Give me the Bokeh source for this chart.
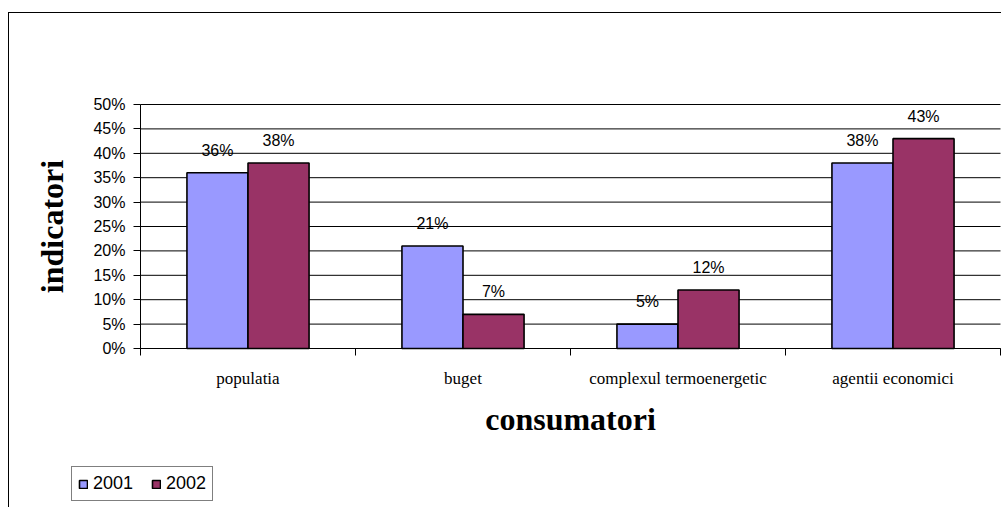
from bokeh.plotting import figure
from bokeh.models import (Range1d, FixedTicker, NumeralTickFormatter, Legend, LegendItem,
                          ColumnDataSource)
from bokeh.core.properties import value
from bokeh.embed import file_html
from bokeh.resources import INLINE

categories = ["populatia", "buget", "complexul termoenergetic", "agentii economici"]
series_names = ["2001", "2002"]
values_2001 = [0.36, 0.21, 0.05, 0.38]
values_2002 = [0.38, 0.07, 0.12, 0.43]
colors = ["#9999FF", "#993366"]
y_ticks = [0, 0.05, 0.10, 0.15, 0.20, 0.25, 0.30, 0.35, 0.40, 0.45, 0.50]

SANS = "Liberation Sans"
SERIF = "Liberation Serif"

# layout (canvas pixels); the frame covers the whole canvas, axes sit at fixed data locations
W, H = 993, 495
X0_PX, X1_PX = 131, 991      # canvas x of the first / last category boundary
Y0_PX, YT_PX = 335, 91       # canvas y of 0 and of the top of the value axis
ncat = len(categories)
ymax = y_ticks[-1]
ppx = (X1_PX - X0_PX) / ncat
ppy = (Y0_PX - YT_PX) / ymax
x_range = Range1d(-X0_PX / ppx, ncat + (W - X1_PX) / ppx)
y_range = Range1d(-(H - Y0_PX) / ppy, ymax + YT_PX / ppy)

p = figure(width=W, height=H, output_backend="svg", toolbar_location=None,
           x_range=x_range, y_range=y_range,
           min_border_left=0, min_border_right=0, min_border_top=0, min_border_bottom=0)
p.styles = {"border-left": "1px solid black", "border-top": "1px solid black",
            "margin-top": "12px", "margin-left": "8px"}
p.outline_line_color = None
p.background_fill_color = "white"
p.border_fill_color = "white"

# horizontal gridlines across the category span
p.segment(x0=[0] * len(y_ticks), x1=[ncat] * len(y_ticks), y0=y_ticks, y1=y_ticks,
          line_color="black", line_width=1)

bw = 0.284
xs = [i + 0.5 for i in range(ncat)]
renderers = []
for k, (vals, col) in enumerate(zip([values_2001, values_2002], colors)):
    off = (-0.5 + k) * bw
    src = ColumnDataSource(dict(x=[x + off for x in xs], top=vals,
                                lbl=[f"{round(v * 100)}%" for v in vals]))
    r = p.vbar(x="x", top="top", bottom=0, width=bw, source=src, fill_color=col,
               line_color="black", line_width=1.6)
    renderers.append(r)
    p.text(x="x", y="top", text="lbl", source=src, text_align="center", text_baseline="bottom",
           y_offset=-14, text_font=value(SANS), text_font_size="16px", text_color="black")

# x axis
xa = p.xaxis[0]
xa.fixed_location = 0
xa.bounds = (0, ncat)
xa.ticker = FixedTicker(ticks=xs, minor_ticks=list(range(ncat + 1)))
xa.major_label_overrides = {x: c for x, c in zip(xs, categories)}
xa.major_tick_line_color = None
xa.major_tick_out = 0
xa.major_tick_in = 0
xa.minor_tick_out = 7
xa.minor_tick_in = 0
xa.minor_tick_line_color = "black"
xa.axis_line_color = "black"
xa.major_label_text_font = SERIF
xa.major_label_text_font_size = "17px"
xa.major_label_text_color = "black"
xa.major_label_standoff = 13
xa.axis_label = "consumatori"
xa.axis_label_text_font = SERIF
xa.axis_label_text_font_size = "32px"
xa.axis_label_text_font_style = "bold"
xa.axis_label_text_color = "black"
xa.axis_label_standoff = 10

# y axis
ya = p.yaxis[0]
ya.fixed_location = 0
ya.bounds = (0, ymax)
ya.ticker = FixedTicker(ticks=y_ticks, minor_ticks=[])
ya.formatter = NumeralTickFormatter(format="0%")
ya.major_tick_out = 7
ya.major_tick_in = 0
ya.major_tick_line_color = "black"
ya.axis_line_color = "black"
ya.major_label_text_font = SANS
ya.major_label_text_font_size = "16px"
ya.major_label_text_color = "black"
ya.major_label_standoff = 8
ya.axis_label = "indicatori"
ya.axis_label_text_font = SERIF
ya.axis_label_text_font_size = "32px"
ya.axis_label_text_font_style = "bold"
ya.axis_label_text_color = "black"
ya.axis_label_standoff = 20

p.xgrid.visible = False
p.ygrid.visible = False

legend = Legend(items=[LegendItem(label=n, renderers=[r]) for n, r in zip(series_names, renderers)],
                location=(62, 7), orientation="horizontal",
                label_text_font=SANS, label_text_font_size="18px", label_text_color="black",
                glyph_width=10, glyph_height=10, label_standoff=5, spacing=18,
                padding=6, margin=0, border_line_color="black", border_line_width=1,
                label_height=20, background_fill_color="white")
p.add_layout(legend, "center")

open("out.html", "w").write(file_html(p, INLINE))
